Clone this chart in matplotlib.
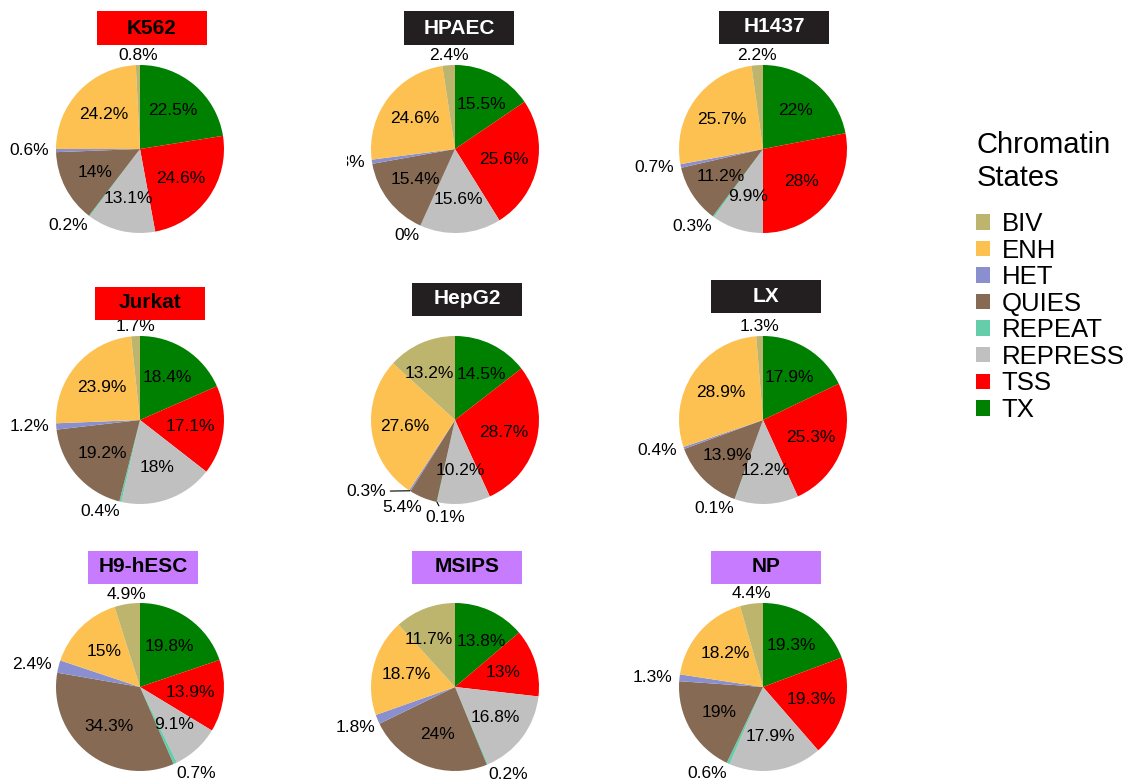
import numpy as np
import matplotlib.pyplot as plt
from matplotlib.patches import Rectangle, Patch

plt.rcParams['font.family'] = ['Liberation Sans', 'DejaVu Sans']

# Chromatin state order, clockwise from 12 o'clock
states = ["TX", "TSS", "REPRESS", "REPEAT", "QUIES", "HET", "ENH", "BIV"]
state_colors = {
    "BIV": "#BDB56E", "ENH": "#FDC152", "HET": "#8A8FCF", "QUIES": "#866A53",
    "REPEAT": "#66CDAA", "REPRESS": "#C0C0C0", "TSS": "#FF0000", "TX": "#008000",
}
legend_order = ["BIV", "ENH", "HET", "QUIES", "REPEAT", "REPRESS", "TSS", "TX"]

cell_names = ["K562", "HPAEC", "H1437",
              "Jurkat", "HepG2", "LX",
              "H9-hESC", "MSIPS", "NP"]
box_colors = ["#FF0000", "#231F20", "#231F20",
              "#FF0000", "#231F20", "#231F20",
              "#C77CFF", "#C77CFF", "#C77CFF"]

# percentages in the order of `states`
K562 = [22.5, 24.6, 13.1, 0.2, 14, 0.6, 24.2, 0.8]
HPAEC = [15.5, 25.6, 15.6, 0, 15.4, 0.8, 24.6, 2.4]
H1437 = [22, 28, 9.9, 0.3, 11.2, 0.7, 25.7, 2.2]
Jurkat = [18.4, 17.1, 18, 0.4, 19.2, 1.2, 23.9, 1.7]
HepG2 = [14.5, 28.7, 10.2, 0.1, 5.4, 0.3, 27.6, 13.2]
LX = [17.9, 25.3, 12.2, 0.1, 13.9, 0.4, 28.9, 1.3]
H9_hESC = [19.8, 13.9, 9.1, 0.7, 34.3, 2.4, 15, 4.9]
MSIPS = [13.8, 13, 16.8, 0.2, 24, 1.8, 18.7, 11.7]
NP = [19.3, 19.3, 17.9, 0.6, 19, 1.3, 18.2, 4.4]
all_values = [K562, HPAEC, H1437, Jurkat, HepG2, LX, H9_hESC, MSIPS, NP]

# layout (pixels)
W, H = 1126, 781
R = 84
pie_x = [140, 455, 763]
pie_y = [149, 420, 687]
title_x = [[152, 459, 774], [150, 467, 766], [143, 467, 766]]
title_y = [[28, 28, 27], [303, 299, 296], [567, 567, 567]]
box_w, box_h = 110, 33
half = 1.5

# hand-placed labels (data units) that have leader lines
overrides = {
    ("HepG2", "HET"): (-0.82, -0.85, "right", "center"),
    ("HepG2", "REPEAT"): (-0.12, -1.07, "center", "top"),
}
clip_left = {"HPAEC": -1.29}

fig = plt.figure(figsize=(W / 100, H / 100), dpi=100)

for k, name in enumerate(cell_names):
    r, c = divmod(k, 3)
    cx, cy = pie_x[c], pie_y[r]
    ax = fig.add_axes([(cx - half * R) / W, 1 - (cy + half * R) / H,
                       2 * half * R / W, 2 * half * R / H])
    vals = all_values[k]
    ax.pie(vals, colors=[state_colors[s] for s in states], startangle=90,
           counterclock=False, radius=1, wedgeprops=dict(linewidth=0))
    ax.set_xlim(-half, half)
    ax.set_ylim(-half, half)
    ax.set_aspect("equal")
    ax.axis("off")

    total = sum(vals)
    cum = 0
    for s, v in zip(states, vals):
        mid = np.deg2rad(90 - 360 * (cum + v / 2) / total)
        cum += v
        lab = f"{v:g}%"
        cs, sn = np.cos(mid), np.sin(mid)
        if v >= 6:
            x, y = 0.6 * cs, 0.6 * sn
            # keep labels of the top slices clear of the 12 o'clock edge
            if sn > 0.5 and abs(x) < 0.31:
                x = np.sign(cs) * 0.31
            ax.text(x, y, lab, ha="center", va="center", fontsize=12.5)
            continue
        if (name, s) in overrides:
            tx, ty, ha, va = overrides[(name, s)]
            ax.annotate(lab, xy=(cs, sn), xytext=(tx, ty),
                        ha=ha, va=va, fontsize=12.5,
                        arrowprops=dict(arrowstyle="-", lw=0.8, color="black",
                                        shrinkA=1, shrinkB=0))
            continue
        ha = "right" if cs < -0.2 else ("left" if cs > 0.2 else "center")
        if sn > 0.35:
            va, dist = "bottom", 1.03
        elif sn < -0.35:
            va, dist = "top", 1.03
        else:
            va, dist = "center", 1.08
        t = ax.text(dist * cs, dist * sn, lab, ha=ha, va=va, fontsize=12.5)
        if name in clip_left:
            rect = Rectangle((clip_left[name], -3), 6, 6, transform=ax.transData)
            t.set_clip_on(True)
            t.set_clip_path(rect)

    # title box
    bx, by = title_x[r][c], title_y[r][c]
    fig.add_artist(Rectangle(((bx - box_w / 2) / W, 1 - (by + box_h / 2) / H),
                             box_w / W, box_h / H, transform=fig.transFigure,
                             facecolor=box_colors[k], edgecolor="none"))
    fig.text(bx / W, 1 - by / H, name, ha="center", va="center",
             fontsize=15, fontweight="bold",
             color="white" if box_colors[k] == "#231F20" else "black")

# legend
fig.text(977 / W, 1 - 131 / H, "Chromatin\nStates", ha="left", va="top",
         fontsize=21, linespacing=1.25)
handles = [Patch(facecolor=state_colors[s], edgecolor="none", label=s)
           for s in legend_order]
leg = fig.legend(handles=handles, loc="upper left",
                 bbox_to_anchor=(976 / W, 1 - 212 / H), frameon=False,
                 fontsize=18.5, handlelength=0.55,
                 handleheight=0.55, handletextpad=0.45, labelspacing=0.1,
                 borderpad=0, borderaxespad=0)

fig.savefig("out.png", dpi=100)
